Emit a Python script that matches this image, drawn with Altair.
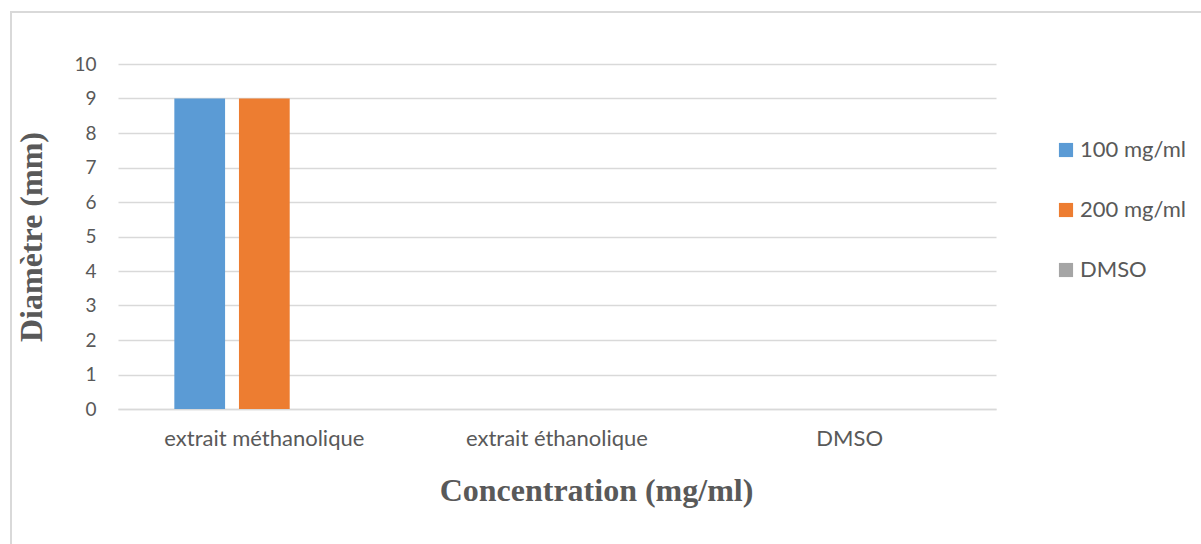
import altair as alt
import pandas as pd

# Inhibition zone diameters per extract and concentration
categories = ["extrait méthanolique", "extrait éthanolique", "DMSO"]
series = ["100 mg/ml", "200 mg/ml", "DMSO"]
values_100 = [9, 0, 0]
values_200 = [9, 0, 0]
values_dmso = [0, 0, 0]
colors = ["#5b9bd5", "#ed7d31", "#a5a5a5"]

rows = []
for name, vals in zip(series, [values_100, values_200, values_dmso]):
    for cat, v in zip(categories, vals):
        rows.append({"Extrait": cat, "Série": name, "Diametre": v})
df = pd.DataFrame(rows)

W, H = 878, 345
PAD_L, PAD_T = 118, 64

label_font = "Lato"
title_font = "Liberation Serif"
text_color = "#595959"

bars = alt.Chart(df).mark_bar().encode(
    x=alt.X(
        "Extrait:N",
        sort=categories,
        scale=alt.Scale(paddingInner=0.385, paddingOuter=0.1925),
        axis=alt.Axis(
            title="Concentration (mg/ml)",
            labelAngle=0,
            ticks=False,
            domainColor="#d9d9d9",
            domainWidth=1.5,
            labelFont=label_font,
            labelFontSize=22,
            labelColor=text_color,
            labelPadding=19,
            labelLimit=400,
            titleFont=title_font,
            titleFontSize=32,
            titleFontWeight="bold",
            titleColor=text_color,
            titlePadding=26,
            titleX=478,
            titleAlign="center",
        ),
    ),
    xOffset=alt.XOffset(
        "Série:N",
        sort=series,
        scale=alt.Scale(paddingInner=0.215, paddingOuter=0),
    ),
    y=alt.Y(
        "Diametre:Q",
        scale=alt.Scale(domain=[0, 10]),
        axis=alt.Axis(
            title="Diamètre (mm)",
            values=list(range(0, 11)),
            ticks=False,
            domain=False,
            gridColor="#d9d9d9",
            gridWidth=1.5,
            labelFont=label_font,
            labelFontSize=19,
            labelColor=text_color,
            labelPadding=22,
            titleFont=title_font,
            titleFontSize=32,
            titleFontWeight="bold",
            titleColor=text_color,
            titlePadding=25,
        ),
    ),
    color=alt.Color(
        "Série:N",
        sort=series,
        scale=alt.Scale(domain=series, range=colors),
        legend=alt.Legend(
            title=None,
            orient="none",
            legendX=W + 59,
            legendY=75,
            symbolType="square",
            symbolSize=200,
            symbolStrokeWidth=0,
            labelFont=label_font,
            labelFontSize=22,
            labelColor=text_color,
            labelLimit=300,
            rowPadding=38,
            labelOffset=3,
        ),
    ),
)

# Chart frame: top and left edges
frame_top = alt.Chart(df).mark_rule(color="#d9d9d9", strokeWidth=2).encode(
    x=alt.value(-PAD_L + 10), x2=alt.value(1201 - PAD_L), y=alt.value(-PAD_T + 12)
)
frame_left = alt.Chart(df).mark_rule(color="#d9d9d9", strokeWidth=2).encode(
    x=alt.value(-PAD_L + 11), y=alt.value(-PAD_T + 11), y2=alt.value(544 - PAD_T)
)

chart = alt.layer(bars, frame_top, frame_left).properties(
    width=W,
    height=H,
    autosize=alt.AutoSizeParams(type="none"),
    padding={"left": PAD_L, "top": PAD_T, "right": 1201 - PAD_L - W, "bottom": 544 - PAD_T - H},
    background="white",
).configure_view(stroke=None)

chart.save("out.html", embed_options={"renderer": "svg", "actions": False})
